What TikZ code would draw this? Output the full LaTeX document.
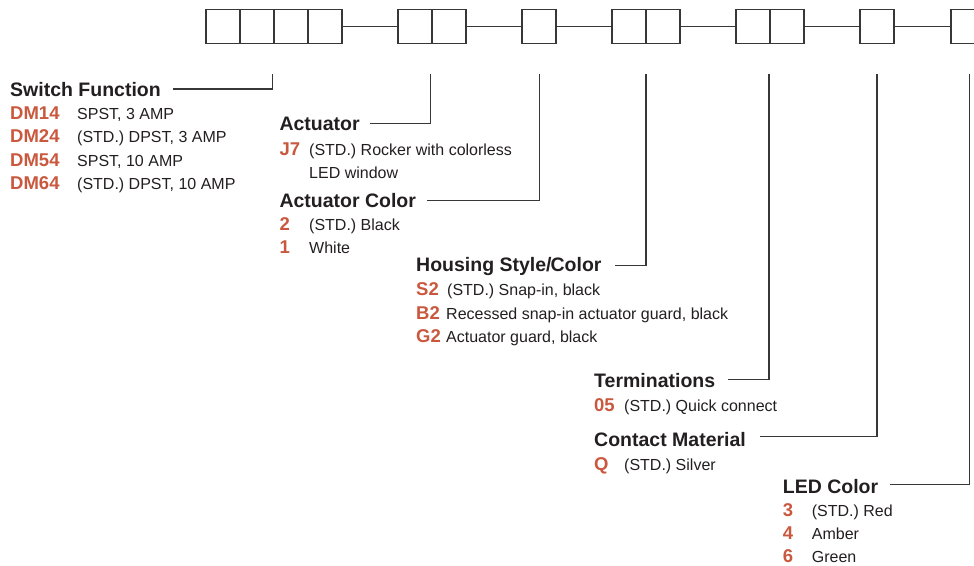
\documentclass[tikz,border=0pt]{standalone}
\usepackage{fontspec}
\setmainfont{Liberation Sans}
\usetikzlibrary{calc}
\definecolor{codecol}{RGB}{201,88,62}
\definecolor{ink}{RGB}{35,31,32}
\definecolor{linec}{RGB}{55,55,55}
\tikzset{
  cell/.style={draw=linec, line width=1.2pt, minimum width=34pt, minimum height=34pt, inner sep=0pt, outer sep=0pt},
  ttl/.style={font=\fontsize{19.5}{20}\selectfont\bfseries, text=ink, anchor=base west, inner sep=0pt},
  code/.style={font=\fontsize{18.5}{19}\selectfont\bfseries, text=codecol, anchor=base west, inner sep=0pt},
  desc/.style={font=\fontsize{16}{17}\selectfont, text=ink, anchor=base west, inner sep=0pt},
  lead/.style={draw=linec, line width=1.1pt},
}
\begin{document}
\begin{tikzpicture}[x=1pt,y=-1pt]
\useasboundingbox (0,0) rectangle (974,565);
\clip (0,0) rectangle (974,565);
% boxes
\foreach \n/\x in {a/223,b/257,c/291,d/325,e/415,f/449,g/539,h/629,i/663,j/753,k/787,l/877,m/968}
  \node[cell] (\n) at (\x,26.5) {};
\draw[lead] (d.east) -- (e.west);
\draw[lead] (f.east) -- (g.west);
\draw[lead] (g.east) -- (h.west);
\draw[lead] (i.east) -- (j.west);
\draw[lead] (k.east) -- (l.west);
\draw[lead] (l.east) -- (m.west);
% leader tops
\coordinate (t1) at (272.5,73.5);
\coordinate (t2) at (430.5,73.5);
\coordinate (t3) at (539.5,73.5);
\coordinate (t4) at (646,73.5);
\coordinate (t5) at (769,73.5);
\coordinate (t6) at (877,73.5);
\coordinate (t7) at (969.5,73.5);
% Switch Function
\node[ttl] (sf) at (10,96) {Switch Function};
\node[code] (c11) at (10,119.3) {DM14};
\node[desc] (d11) at (77,119.3) {SPST, 3 AMP};
\node[code] (c12) at (10,142.7) {DM24};
\node[desc] (d12) at (77,142.7) {(STD.) DPST, 3 AMP};
\node[code] (c13) at (10,166) {DM54};
\node[desc] (d13) at (77,166) {SPST, 10 AMP};
\node[code] (c14) at (10,189.3) {DM64};
\node[desc] (d14) at (77,189.3) {(STD.) DPST, 10 AMP};
% Actuator
\node[ttl] (ac) at (279.3,130.7) {Actuator};
\node[code] (c21) at (279.3,155) {J7};
\node[desc] (d21) at (309,155) {(STD.) Rocker with colorless};
\node[desc] (d22) at (309,178.3) {LED window};
% Actuator Color
\node[ttl] (acc) at (279.3,207.3) {Actuator Color};
\node[code] (c31) at (279.3,230.7) {2};
\node[desc] (d31) at (309,230.7) {(STD.) Black};
\node[code] (c32) at (279.3,253.3) {1};
\node[desc] (d32) at (309,253.3) {White};
% Housing
\node[ttl] (hs) at (416,271.7) {Housing Style/\kern-1pt Color};
\node[code] (c41) at (416,295.7) {S2};
\node[desc] (d41) at (447,295.7) {(STD.) Snap-in, black};
\node[code] (c42) at (416,319) {B2};
\node[desc] (d42) at (446,319) {Recessed snap-in actuator guard, black};
\node[code] (c43) at (416,342.3) {G2};
\node[desc] (d43) at (446,342.3) {Actuator guard, black};
% Terminations
\node[ttl] (te) at (594,387.7) {Terminations};
\node[code] (c51) at (594,411.7) {05};
\node[desc] (d51) at (624,411.7) {(STD.) Quick connect};
% Contact Material
\node[ttl] (cm) at (594,446.7) {Contact Material};
\node[code] (c61) at (594,470) {Q};
\node[desc] (d61) at (624,470) {(STD.) Silver};
% LED Color
\node[ttl] (lc) at (782.7,493.3) {LED Color};
\node[code] (c71) at (782.7,516) {3};
\node[desc] (d71) at (811.7,516) {(STD.) Red};
\node[code] (c72) at (782.7,539.5) {4};
\node[desc] (d72) at (811.7,539.5) {Amber};
\node[code] (c73) at (782.7,562.5) {6};
\node[desc] (d73) at (811.7,562.5) {Green};
% leaders
\draw[lead] ($(sf.base east)+(12,-7)$) -| (t1);
\draw[lead] ($(ac.base east)+(10,-7)$) -| (t2);
\draw[lead] ($(acc.base east)+(11,-7)$) -| (t3);
\draw[lead] ($(hs.base east)+(13,-6)$) -| (t4);
\draw[lead] ($(te.base east)+(13,-8)$) -| (t5);
\draw[lead] ($(cm.base east)+(14,-10)$) -| (t6);
\draw[lead] ($(lc.base east)+(12,-9)$) -| (t7);
\end{tikzpicture}
\end{document}
